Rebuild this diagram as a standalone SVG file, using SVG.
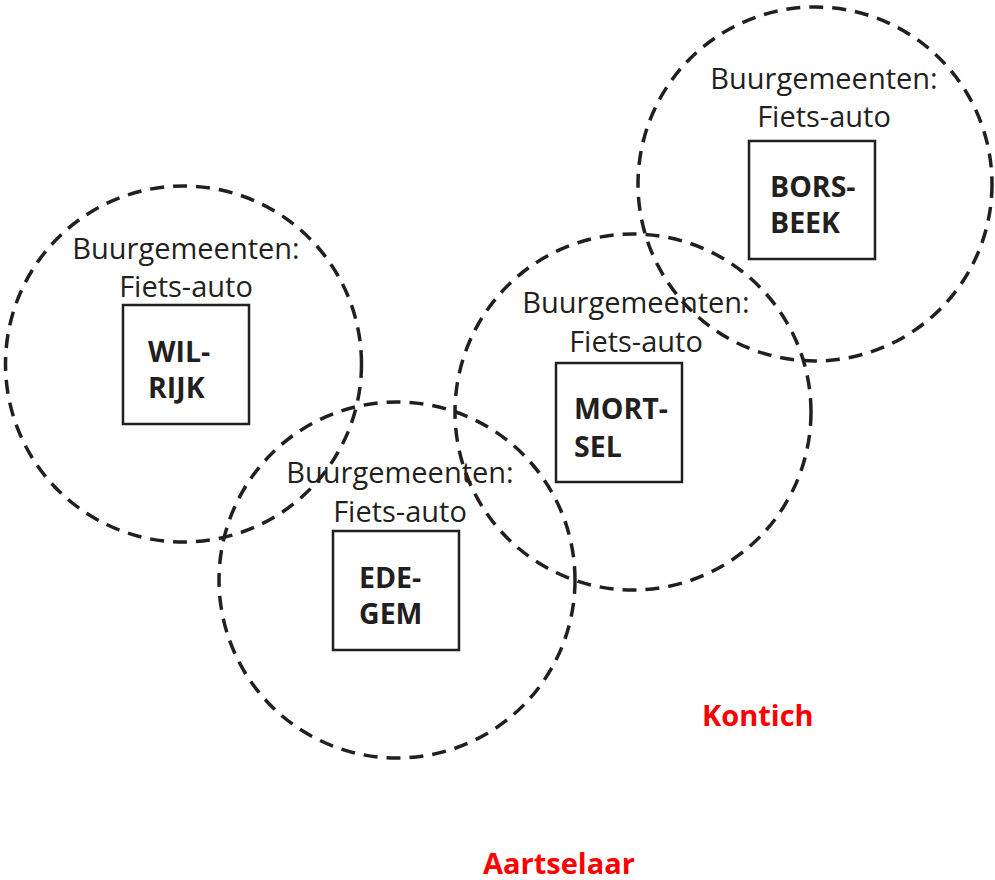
<svg xmlns="http://www.w3.org/2000/svg" width="995" height="880" viewBox="0 0 995 880">
<style>
.c{fill:none;stroke:#231f20;stroke-width:3.5;stroke-dasharray:14 9}
.b{fill:none;stroke:#231f20;stroke-width:2.5}
.l{font-family:"Open Sans","Liberation Sans",sans-serif;font-size:29px;font-weight:normal;fill:#231f20;text-anchor:middle}
.n{font-family:"Open Sans","Liberation Sans",sans-serif;font-size:28.5px;font-weight:bold;fill:#231f20}
.r{font-family:"Open Sans","Liberation Sans",sans-serif;font-size:29px;font-weight:bold;fill:#ff0000}
</style>
<rect width="995" height="880" fill="#ffffff"/>
<g id="zones">
<circle class="c" cx="815" cy="184" r="177"/>
<circle class="c" cx="183.5" cy="364" r="178"/>
<circle class="c" cx="633" cy="412" r="178"/>
<circle class="c" cx="397" cy="580" r="178"/>
</g>
<g id="borsbeek">
<text class="l" x="824" y="89">Buurgemeenten:</text>
<text class="l" x="824" y="127">Fiets-auto</text>
<rect class="b" x="749" y="141" width="126" height="118"/>
<text class="n" x="770" y="197">BORS-</text>
<text class="n" x="770" y="233">BEEK</text>
</g>
<g id="wilrijk">
<text class="l" x="186" y="259">Buurgemeenten:</text>
<text class="l" x="186" y="297">Fiets-auto</text>
<rect class="b" x="123" y="305" width="126" height="119"/>
<text class="n" x="148" y="362">WIL-</text>
<text class="n" x="148" y="398">RIJK</text>
</g>
<g id="mortsel">
<text class="l" x="636" y="313">Buurgemeenten:</text>
<text class="l" x="636" y="352">Fiets-auto</text>
<rect class="b" x="556" y="363" width="126" height="119"/>
<text class="n" x="574" y="419">MORT-</text>
<text class="n" x="574" y="457">SEL</text>
</g>
<g id="edegem">
<text class="l" x="400" y="483">Buurgemeenten:</text>
<text class="l" x="400" y="522">Fiets-auto</text>
<rect class="b" x="333" y="531" width="126" height="119"/>
<text class="n" x="359" y="588">EDE-</text>
<text class="n" x="359" y="624">GEM</text>
</g>
<g id="kontich">
<text class="r" x="702" y="726">Kontich</text>
</g>
<g id="aartselaar">
<text class="r" x="483" y="874">Aartselaar</text>
</g>
<g id="connectors"></g>
</svg>
